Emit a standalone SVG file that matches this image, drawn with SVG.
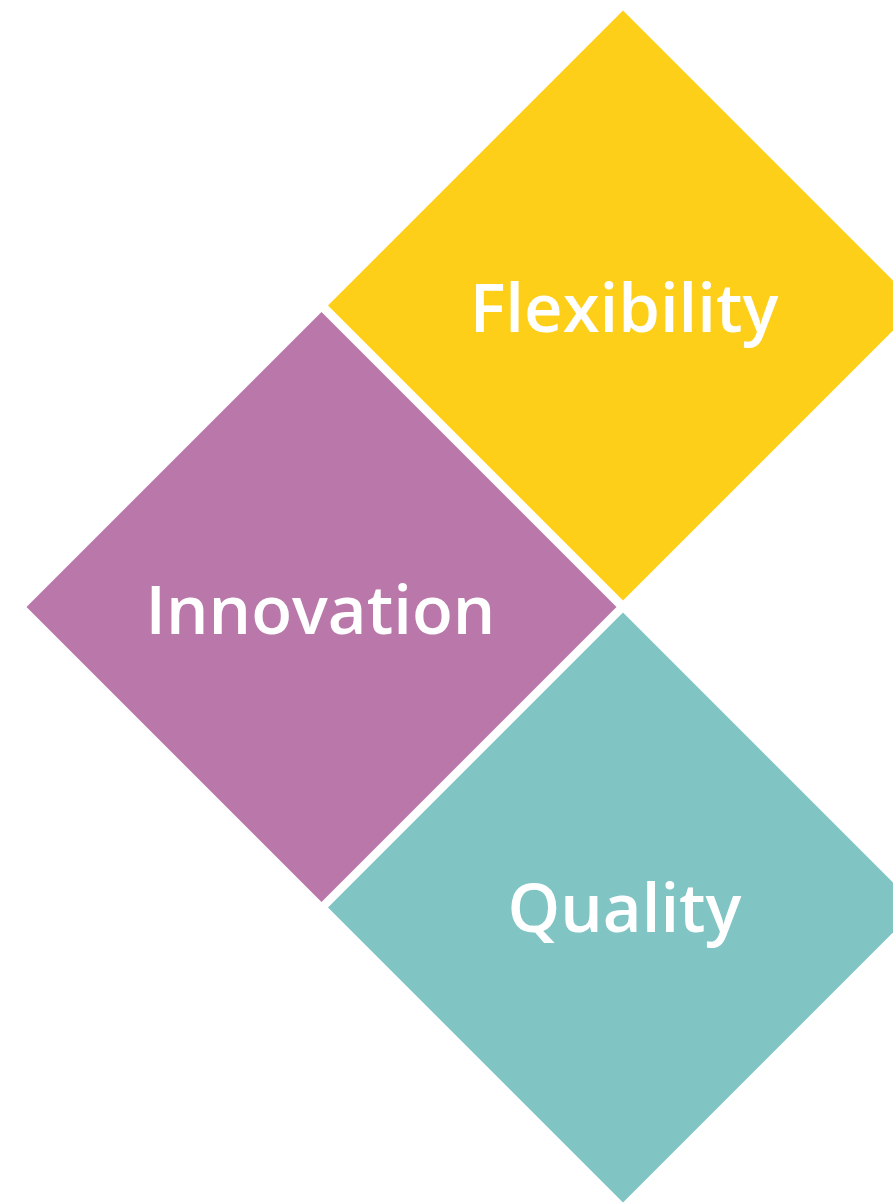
<svg xmlns="http://www.w3.org/2000/svg" width="893" height="1203" viewBox="0 0 893 1203">
<style>
.lbl{font-family:"Open Sans","Noto Sans","Liberation Sans",sans-serif;font-weight:600;font-size:67px;fill:#ffffff;text-anchor:middle}
</style>
<rect width="893" height="1203" fill="#ffffff"/>
<g id="flexibility">
<polygon points="623,10.5 918,305.5 623,600.5 328,305.5" fill="#fdcf19"/>
<text class="lbl" x="624" y="331.5">Flexibility</text>
</g>
<g id="innovation">
<polygon points="321.5,312 616.5,607 321.5,902 26.5,607" fill="#b977aa"/>
<text class="lbl" x="320.5" y="633.5">Innovation</text>
</g>
<g id="quality">
<polygon points="623,612.5 918,907.5 623,1202.5 328,907.5" fill="#80c4c4"/>
<text class="lbl" x="624.5" y="932">Quality</text>
</g>
<g id="connectors"/>
</svg>
